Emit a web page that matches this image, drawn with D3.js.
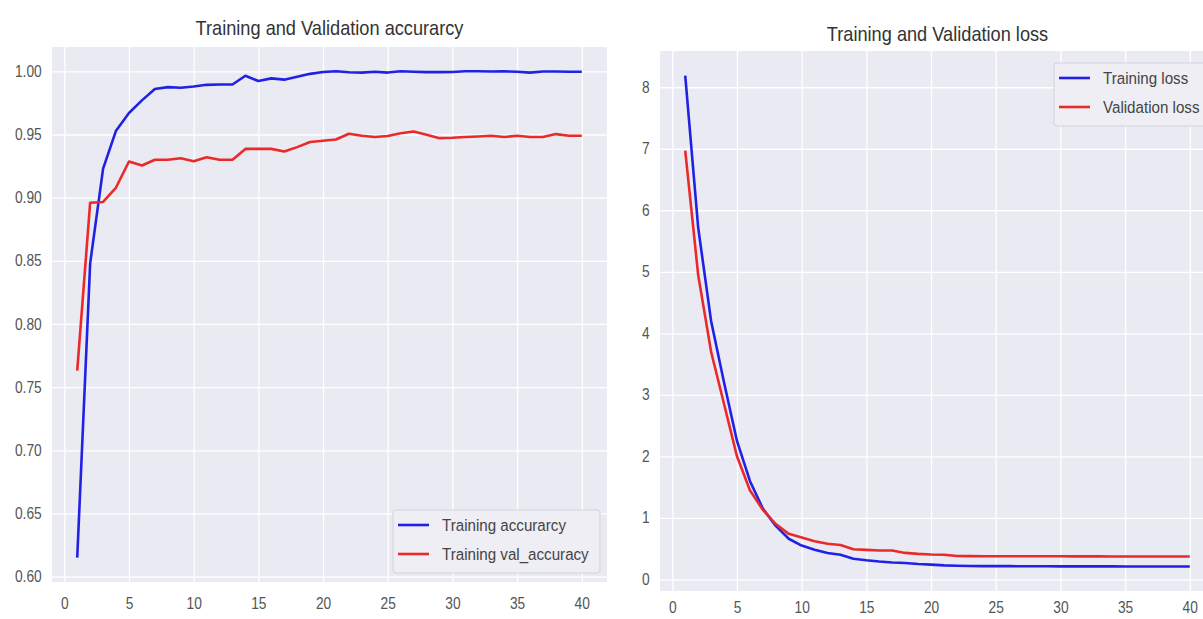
<!DOCTYPE html>
<html>
<head>
<meta charset="utf-8">
<script src="https://cdn.jsdelivr.net/npm/d3@7"></script>
<style>
  body { margin: 0; background: #fff; }
  svg { display: block; font-family: "Liberation Sans", Arial, sans-serif; }
</style>
</head>
<body>
<div id="chart"></div>
<script>
// epochs 1..40
var epochs = d3.range(1, 41);

var trainAcc = [0.615, 0.848, 0.923, 0.953, 0.967, 0.977, 0.986, 0.9875, 0.987, 0.988,
  0.9893, 0.9896, 0.9896, 0.9965, 0.9923, 0.9944, 0.9934, 0.9957, 0.998, 0.9995,
  1.0, 0.9993, 0.999, 0.9997, 0.999, 1.0, 0.9997, 0.9994, 0.9994, 0.9995,
  1.0, 1.0, 0.9998, 1.0, 0.9996, 0.999, 0.9998, 0.9998, 0.9996, 0.9996];

var valAcc = [0.763, 0.896, 0.8966, 0.908, 0.9286, 0.9254, 0.930, 0.930, 0.9312, 0.9288,
  0.932, 0.930, 0.930, 0.9386, 0.9386, 0.9386, 0.9365, 0.940, 0.944, 0.945,
  0.946, 0.9506, 0.949, 0.948, 0.9488, 0.951, 0.9524, 0.9497, 0.9471, 0.9474,
  0.948, 0.9484, 0.949, 0.948, 0.949, 0.948, 0.948, 0.9503, 0.949, 0.949];

var trainLoss = [8.19, 5.72, 4.2, 3.2, 2.25, 1.6, 1.15, 0.87, 0.66, 0.55,
  0.48, 0.43, 0.4, 0.335, 0.31, 0.29, 0.275, 0.265, 0.25, 0.24,
  0.228, 0.222, 0.218, 0.216, 0.215, 0.215, 0.214, 0.213, 0.213, 0.212,
  0.212, 0.211, 0.211, 0.211, 0.21, 0.21, 0.21, 0.21, 0.21, 0.21];

var valLoss = [6.97, 4.95, 3.7, 2.85, 2.0, 1.45, 1.13, 0.9, 0.74, 0.68,
  0.62, 0.58, 0.56, 0.49, 0.48, 0.47, 0.47, 0.43, 0.415, 0.405,
  0.4, 0.38, 0.378, 0.377, 0.376, 0.376, 0.375, 0.375, 0.375, 0.375,
  0.374, 0.374, 0.374, 0.373, 0.373, 0.373, 0.372, 0.372, 0.372, 0.372];

var xTicks = [0, 5, 10, 15, 20, 25, 30, 35, 40];
var accTicks = [0.60, 0.65, 0.70, 0.75, 0.80, 0.85, 0.90, 0.95, 1.00];
var lossTicks = [0, 1, 2, 3, 4, 5, 6, 7, 8];

var W = 1203, H = 619;

var svg = d3.select("#chart")
  .append("svg")
    .attr("width", W)
    .attr("height", H);

// matplotlib style autoscale: 5% margin on each side
function padded(arr) {
  var lo = d3.min(arr), hi = d3.max(arr), m = (hi - lo) * 0.05;
  return [lo - m, hi + m];
}

function drawPanel(p) {
  var width = p.right - p.left;
  var height = p.bottom - p.top;

  var g = svg.append("g")
    .attr("transform", "translate(" + p.left + "," + p.top + ")");

  var x = d3.scaleLinear().domain(padded(epochs)).range([0, width]);
  var y = d3.scaleLinear().domain(padded(p.series[0].values.concat(p.series[1].values))).range([height, 0]);

  g.append("rect")
    .attr("width", width)
    .attr("height", height)
    .attr("fill", "#eaeaf2");

  // x axis + vertical grid
  var xa = g.append("g")
    .attr("transform", "translate(0," + height + ")")
    .call(d3.axisBottom(x).tickValues(xTicks).tickSize(-height).tickPadding(p.xPad));
  // y axis + horizontal grid
  var ya = g.append("g")
    .call(d3.axisLeft(y).tickValues(p.yTicks).tickSize(-width).tickPadding(12).tickFormat(p.yFormat));

  // the picture is a little squeezed sideways, so the text is too
  [xa, ya].forEach(function (a) {
    a.select(".domain").remove();
    a.selectAll("line").attr("stroke", "#fff").attr("stroke-width", 1.3);
    a.selectAll("text")
      .attr("fill", "#555")
      .attr("transform", "scale(0.86,1)")
      .style("font-size", "16px");
  });

  var line = d3.line()
    .x(function (d, i) { return x(epochs[i]); })
    .y(function (d) { return y(d); });

  p.series.forEach(function (s) {
    g.append("path")
      .datum(s.values)
      .attr("fill", "none")
      .attr("stroke", s.color)
      .attr("stroke-width", 2.6)
      .attr("stroke-linejoin", "round")
      .attr("d", line);
  });

  // title
  svg.append("text")
    .attr("transform", "translate(" + (p.left + width / 2) + "," + p.titleY + ") scale(0.91,1)")
    .attr("text-anchor", "middle")
    .attr("fill", "#333")
    .style("font-size", "20px")
    .text(p.title);

  // legend
  var lg = svg.append("g")
    .attr("transform", "translate(" + p.legend.x + "," + p.legend.y + ")");
  lg.append("rect")
    .attr("width", p.legend.w)
    .attr("height", 63)
    .attr("rx", 3)
    .attr("fill", "#eeeef4")
    .attr("stroke", "#d2d2da");
  p.series.forEach(function (s, i) {
    var yy = 15 + i * 29;
    lg.append("line")
      .attr("x1", 5).attr("x2", 36)
      .attr("y1", yy).attr("y2", yy)
      .attr("stroke", s.color)
      .attr("stroke-width", 2.6);
    lg.append("text")
      .attr("transform", "translate(49," + (yy + 6) + ") scale(0.93,1)")
      .attr("fill", "#444")
      .style("font-size", "16.3px")
      .text(s.name);
  });
}

drawPanel({
  left: 52, right: 607, top: 47, bottom: 582,
  title: "Training and Validation accurarcy", titleY: 35,
  yTicks: accTicks, yFormat: d3.format(".2f"), xPad: 16,
  series: [
    { name: "Training accurarcy", values: trainAcc, color: "#2121e6" },
    { name: "Training val_accuracy", values: valAcc, color: "#ea2a2a" }
  ],
  legend: { x: 393, y: 510, w: 207 }
});

drawPanel({
  left: 660, right: 1215, top: 51, bottom: 591,
  title: "Training and Validation loss", titleY: 41,
  yTicks: lossTicks, yFormat: d3.format("d"), xPad: 11,
  series: [
    { name: "Training loss", values: trainLoss, color: "#2121e6" },
    { name: "Validation loss", values: valLoss, color: "#ea2a2a" }
  ],
  legend: { x: 1054, y: 63, w: 154 }
});
</script>
</body>
</html>
